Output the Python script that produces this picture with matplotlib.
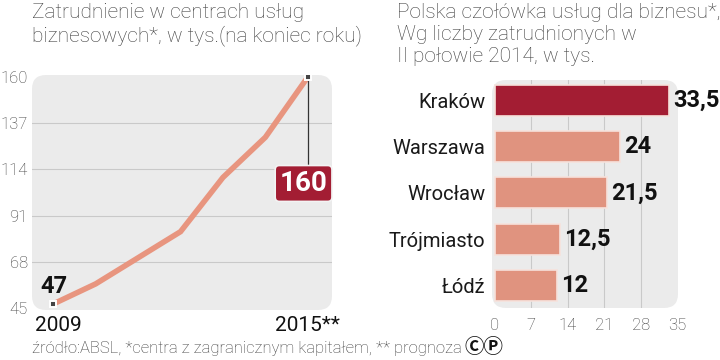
import matplotlib
matplotlib.use("Agg")
import matplotlib.pyplot as plt
from matplotlib.patches import FancyBboxPatch

# data
years = [2009, 2010, 2011, 2012, 2013, 2014, 2015]
employment = [47, 57, 70, 83, 110, 130, 160]
y_ticks = [45, 68, 91, 114, 137, 160]

cities = ["Kraków", "Warszawa", "Wrocław", "Trójmiasto", "Łódź"]
city_values = [33.5, 24, 21.5, 12.5, 12]
city_labels = ["33,5", "24", "21,5", "12,5", "12"]
x_ticks = [0, 7, 14, 21, 28, 35]

plt.rcParams["font.family"] = ["Roboto", "DejaVu Sans"]

DARK = "#1a1a1a"
TEXT = "#3d3d3d"
BG = "#ebebeb"
GRID = "#c9c9c9"
SALMON = "#e0937f"
LINE = "#e8957f"
RED = "#a31d33"

W, H = 720, 360
fig = plt.figure(figsize=(7.2, 3.6), dpi=100)


def px_axes(x0, y0, x1, y1):
    return fig.add_axes([x0 / W, 1 - y1 / H, (x1 - x0) / W, (y1 - y0) / H])


def rounded_bg(ax, w_px, h_px, r_px=14):
    r = r_px / w_px
    bg = FancyBboxPatch((0, 0), 1, 1, boxstyle=f"round,pad=0,rounding_size={r}",
                        mutation_aspect=w_px / h_px, transform=ax.transAxes,
                        facecolor=BG, edgecolor="none", zorder=0, clip_on=False)
    ax.add_patch(bg)
    ax.set_facecolor("none")
    for s in ax.spines.values():
        s.set_visible(False)


# ---- left: line chart ----
ax1 = px_axes(32, 75, 332, 310)
rounded_bg(ax1, 300, 235)
ax1.set_xlim(years[0] - 0.5, years[-1] + 0.57)
ax1.set_ylim(44, 161)
for t in y_ticks[1:-1]:
    ax1.axhline(t, color=GRID, lw=0.8, zorder=1)
ax1.set_yticks(y_ticks)
ax1.set_yticklabels([str(t) for t in y_ticks], fontsize=12, color=TEXT, fontweight="light")
ax1.tick_params(axis="y", length=0, pad=3)
ax1.set_xticks([])

ax1.plot(years, employment, color=LINE, lw=4, solid_joinstyle="miter", zorder=2)
ax1.plot([years[0], years[-1]], [employment[0], employment[-1]], ls="none",
         marker="s", ms=5, mfc="#444444", mec="white", mew=1.4, zorder=4)

# highlight label for last value
box_y = 107
ax1.plot([years[-1], years[-1]], [employment[-1], box_y], color="#333333", lw=0.9, zorder=3)
ax1.text(years[-1] - 0.1, box_y, str(employment[-1]), fontsize=20, fontweight="bold",
         color="white", ha="center", va="center", zorder=5,
         bbox=dict(boxstyle="round,pad=0.16,rounding_size=0.15", fc=RED, ec="#f3f3f3", lw=1.2))
ax1.text(years[0] - 0.3, employment[0] + 3, str(employment[0]), fontsize=17,
         fontweight="bold", color="#111111", ha="left", va="bottom", zorder=5)

ax1.text(years[0] - 0.42, 41, str(years[0]), fontsize=15, color="#111111",
         ha="left", va="top")
ax1.text(years[-1] - 0.78, 41, f"{years[-1]}**", fontsize=15, color="#111111",
         ha="left", va="top")

fig.text(32 / W, 1 - 3 / H, "Zatrudnienie w centrach usług\nbiznesowych*, w tys.(na koniec roku)",
         fontsize=15, color=TEXT, ha="left", va="top", linespacing=1.2, fontweight="light")

# ---- right: bar chart ----
ax2 = px_axes(492, 80, 678, 308)
rounded_bg(ax2, 186, 228)
pos = list(range(len(cities)))
ax2.set_xlim(-0.58, 35.2)
ax2.set_ylim(4.49, -0.44)
for t in x_ticks[1:-1]:
    ax2.axvline(t, color=GRID, lw=0.8, zorder=1)
colors = [RED] + [SALMON] * (len(cities) - 1)
ax2.barh(pos, city_values, height=0.67, color=colors, edgecolor="#f6e2dc",
         linewidth=1.2, zorder=2)
for p, v, lab in zip(pos, city_values, city_labels):
    ax2.text(v + 0.8, p, lab, fontsize=17, fontweight="bold", color="#111111",
             ha="left", va="center", clip_on=False)
ax2.set_yticks(pos)
ax2.set_yticklabels(cities, fontsize=14.5, color=DARK)
ax2.set_xticks(x_ticks)
ax2.set_xticklabels([str(t) for t in x_ticks], fontsize=12, color=TEXT, fontweight="light")
ax2.tick_params(axis="both", length=0)
ax2.tick_params(axis="x", pad=7)
ax2.tick_params(axis="y", pad=5)

fig.text(397 / W, 1 - 3 / H,
         "Polska czołówka usług dla biznesu*,\nWg liczby zatrudnionych w\nII połowie 2014, w tys.",
         fontsize=15, color=TEXT, ha="left", va="top", linespacing=1.2, fontweight="light")

# footer
foot = fig.text(32 / W, 1 - 353 / H, "źródło:ABSL, *centra z zagranicznym kapitałem, ** prognoza",
                fontsize=12, color=TEXT, ha="left", va="baseline", fontweight="light")
fig.canvas.draw()
fig.text(foot.get_window_extent().x1 / W + 3 / W, 1 - 353 / H, "ⒸⓅ", fontsize=14,
         fontweight="bold", color="#111111", ha="left", va="baseline",
         family=["Noto Sans CJK JP", "DejaVu Sans"])

fig.savefig("out.png", dpi=100)
